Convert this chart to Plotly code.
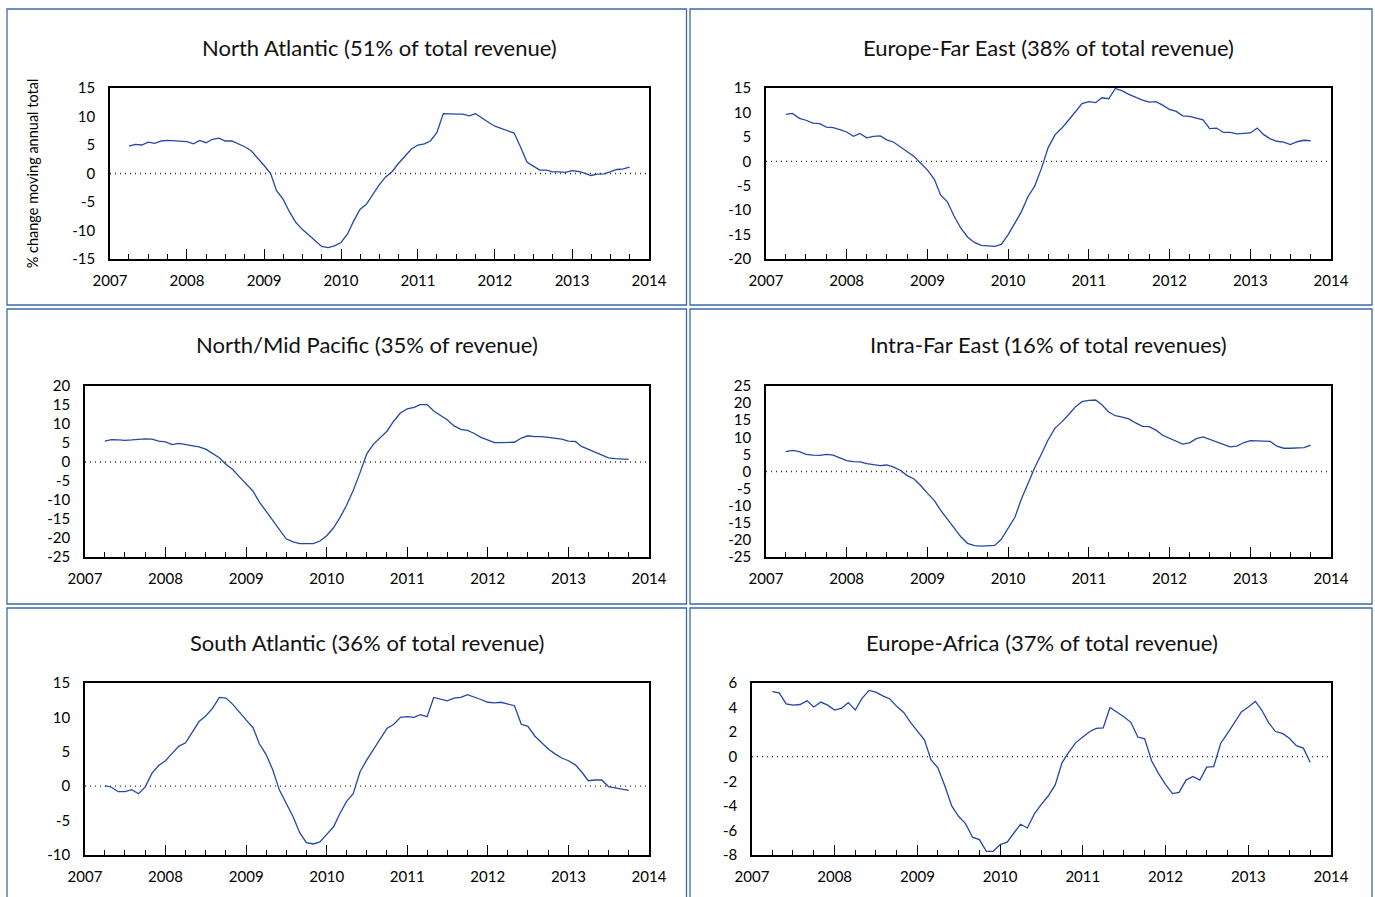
import pandas as pd
import plotly.graph_objects as go

# ---------------- data (monthly, Apr 2007 – Oct 2013) ----------------
months = pd.date_range("2007-04-01", "2013-10-01", freq="MS")

north_atlantic = [4.8, 5.1, 5.0, 5.5, 5.3, 5.7, 5.8, 5.7, 5.7, 5.6, 5.2, 5.8, 5.4, 6.0, 6.2, 5.7,
                  5.7, 5.2, 4.7, 4.0, 2.8, 1.4, 0.0, -3.0, -4.5, -6.7, -8.6, -9.8, -10.8, -11.8,
                  -12.8, -13.0, -12.7, -12.1, -10.6, -8.4, -6.3, -5.4, -3.7, -2.0, -0.6, 0.35, 1.8,
                  3.0, 4.3, 5.0, 5.2, 5.7, 7.2, 10.5, 10.4, 10.4, 10.4, 10.1, 10.5, 9.7, 9.0, 8.3,
                  7.9, 7.6, 7.1, 4.7, 2.0, 1.3, 0.6, 0.6, 0.3, 0.3, 0.2, 0.5, 0.35, 0.05, -0.35,
                  -0.1, -0.05, 0.3, 0.7, 0.8, 1.1]

europe_far_east = [9.6, 9.8, 8.8, 8.4, 7.8, 7.7, 7.0, 6.9, 6.5, 6.0, 5.1, 5.7, 4.8, 5.1, 5.2, 4.4,
                   3.9, 2.9, 2.0, 1.0, -0.4, -1.8, -3.7, -6.9, -8.3, -11.2, -13.7, -15.5, -16.6,
                   -17.2, -17.3, -17.4, -17.0, -15.0, -12.6, -10.4, -7.2, -5.1, -1.4, 2.8, 5.4,
                   6.8, 8.4, 10.1, 11.8, 12.2, 12.0, 13.0, 12.8, 14.9, 14.4, 13.7, 13.1, 12.5, 12.1,
                   12.2, 11.5, 10.6, 10.2, 9.3, 9.2, 8.9, 8.5, 6.7, 6.8, 5.9, 5.9, 5.6, 5.7, 5.8,
                   6.8, 5.5, 4.6, 4.1, 3.9, 3.4, 4.0, 4.3, 4.2]

north_mid_pacific = [5.5, 5.9, 5.8, 5.7, 5.8, 5.9, 6.1, 6.0, 5.5, 5.3, 4.6, 4.9, 4.6, 4.4, 4.0, 3.4,
                     2.3, 1.1, -0.6, -2.0, -3.9, -5.7, -7.7, -10.5, -13.0, -15.2, -17.7, -20.2,
                     -21.0, -21.5, -21.5, -21.5, -20.8, -19.4, -17.3, -14.7, -11.4, -7.5, -2.8, 2.1,
                     4.7, 6.4, 8.1, 10.8, 12.9, 14.0, 14.4, 15.1, 15.1, 13.4, 12.3, 11.1, 9.5, 8.6,
                     8.3, 7.5, 6.5, 5.8, 5.1, 5.1, 5.2, 5.2, 6.3, 6.9, 6.7, 6.7, 6.5, 6.3, 6.0, 5.5,
                     5.4, 4.1, 3.3, 2.5, 1.8, 1.1, 0.9, 0.7, 0.7]

intra_far_east = [5.8, 6.2, 5.8, 5.0, 4.8, 4.7, 5.0, 4.8, 4.0, 3.2, 2.9, 2.8, 2.3, 2.0, 1.7, 1.9,
                  1.3, 0.3, -1.2, -2.2, -4.1, -6.4, -8.5, -11.3, -13.9, -16.4, -19.1, -21.0, -21.7,
                  -21.8, -21.6, -21.6, -19.8, -16.7, -13.3, -8.2, -3.2, 1.1, 5.2, 9.3, 12.7, 14.5,
                  16.6, 18.9, 20.4, 20.8, 20.9, 19.5, 17.4, 16.3, 15.9, 15.4, 14.2, 13.2, 13.1,
                  12.1, 10.6, 9.7, 8.9, 8.0, 8.4, 9.6, 10.1, 9.4, 8.6, 8.1, 7.2, 7.4, 8.4, 9.0,
                  8.9, 8.9, 8.8, 7.4, 6.8, 6.8, 7.0, 7.0, 7.7]

south_atlantic = [0.1, -0.15, -0.8, -0.8, -0.5, -1.1, -0.1, 1.9, 3.0, 3.7, 4.8, 5.8, 6.3, 7.9, 9.4,
                  10.2, 11.3, 12.9, 12.8, 11.9, 10.7, 9.6, 8.5, 6.2, 4.6, 2.4, -0.6, -2.5, -4.4,
                  -6.8, -8.2, -8.4, -8.1, -7.0, -5.9, -4.0, -2.2, -1.1, 2.1, 3.8, 5.3, 6.8, 8.4,
                  9.0, 10.0, 10.1, 10.0, 10.4, 10.1, 12.9, 12.7, 12.4, 12.8, 12.9, 13.3, 13.0, 12.6,
                  12.2, 12.1, 12.2, 12.0, 11.7, 9.0, 8.7, 7.3, 6.4, 5.4, 4.7, 4.1, 3.7, 3.1, 2.1,
                  0.8, 0.9, 0.9, -0.05, -0.2, -0.35, -0.6]

europe_africa = [5.3, 5.2, 4.3, 4.2, 4.25, 4.55, 4.05, 4.45, 4.2, 3.8, 3.95, 4.4, 3.8, 4.75, 5.4,
                 5.25, 4.95, 4.7, 4.1, 3.6, 2.8, 2.1, 1.35, -0.25, -0.9, -2.35, -4.0, -4.85, -5.45,
                 -6.55, -6.75, -7.7, -7.7, -7.15, -6.95, -6.25, -5.5, -5.8, -4.65, -3.9, -3.2,
                 -2.3, -0.5, 0.4, 1.15, 1.6, 2.05, 2.3, 2.35, 4.0, 3.65, 3.25, 2.8, 1.6, 1.45,
                 -0.35, -1.35, -2.25, -3.0, -2.9, -1.9, -1.6, -1.9, -0.85, -0.8, 1.1, 1.9, 2.75,
                 3.65, 4.05, 4.5, 3.8, 2.75, 2.05, 1.9, 1.5, 0.9, 0.7, -0.45]

titles = ["North Atlantic (51% of total revenue)",
          "Europe-Far East (38% of total revenue)",
          "North/Mid Pacific (35% of revenue)",
          "Intra-Far East (16% of total revenues)",
          "South Atlantic (36% of total revenue)",
          "Europe-Africa (37% of total revenue)"]
series = [north_atlantic, europe_far_east, north_mid_pacific,
          intra_far_east, south_atlantic, europe_africa]
# y tick values per panel (labels shown with a plain hyphen, as in the source)
y_ticks = [[-15, -10, -5, 0, 5, 10, 15],
           [-20, -15, -10, -5, 0, 5, 10, 15],
           [-25, -20, -15, -10, -5, 0, 5, 10, 15, 20],
           [-25, -20, -15, -10, -5, 0, 5, 10, 15, 20, 25],
           [-10, -5, 0, 5, 10, 15],
           [-8, -6, -4, -2, 0, 2, 4, 6]]
y_title = "% change moving annual total"

# ---------------- layout (pixel geometry) ----------------
W, H = 1375, 897
# plot boxes: (left, right, top, bottom) in pixels
boxes = [(110, 649, 88, 259), (766, 1331, 88, 259),
         (85, 649, 386, 557), (766, 1331, 386, 557),
         (85, 649, 683, 855), (752, 1331, 683, 855)]
title_y = [47, 47, 345, 345, 642, 642]
# panel frames (left, right, top, bottom)
frames = [(7, 686.5, 9, 305), (690, 1372, 9, 305),
          (7, 686.5, 309, 604), (690, 1372, 309, 604),
          (7, 686.5, 608, 905), (690, 1372, 608, 905)]

FONT = "Lato, 'Open Sans', sans-serif"
LINE = "#2448A2"
FRAME = "#3A6BA6"

def px(x):
    return x / W

def py(y):
    return 1 - y / H

fig = go.Figure()
layout = dict(width=W, height=H,
              margin=dict(l=0, r=0, t=0, b=0, pad=0, autoexpand=False),
              paper_bgcolor="white", plot_bgcolor="white", showlegend=False,
              font=dict(family=FONT, size=15, color="black"))
shapes = []
annotations = []

for k in range(6):
    n = "" if k == 0 else str(k + 1)
    l, r, t, b = boxes[k]
    fig.add_trace(go.Scatter(x=months, y=series[k], mode="lines",
                             line=dict(color=LINE, width=1.3),
                             xaxis="x" + n, yaxis="y" + n, hoverinfo="x+y"))
    layout["xaxis" + n] = dict(
        domain=[px(l), px(r)], anchor="y" + n, type="date", automargin=False,
        range=["2007-01-01", "2014-01-01"], dtick="M12", tick0="2007-01-01",
        tickformat="%Y", ticks="inside", ticklen=10, tickwidth=1, tickcolor="black",
        minor=dict(dtick="M3", tick0="2007-01-01", ticks="inside", ticklen=5,
                   tickwidth=1, tickcolor="black"),
        showline=True, linecolor="black", linewidth=1.5, mirror=True,
        showgrid=False, zeroline=False, ticklabelstandoff=7,
        tickfont=dict(size=15, family=FONT))
    yt = y_ticks[k]
    layout["yaxis" + n] = dict(
        domain=[py(b), py(t)], anchor="x" + n, range=[yt[0], yt[-1]], automargin=False,
        tickmode="array", tickvals=yt, ticktext=[str(v) for v in yt],
        ticks="", showline=True, linecolor="black",
        linewidth=1.5, mirror=True, showgrid=False, zeroline=False,
        ticklabelstandoff=10, tickfont=dict(size=15, family=FONT))
    # dotted zero line
    shapes.append(dict(type="line", xref="x" + n + " domain", yref="y" + n,
                       x0=0, x1=1, y0=0, y1=0,
                       line=dict(color="#333333", width=1.3, dash="1px,4px")))
    annotations.append(dict(text=titles[k], x=px((l + r) / 2), y=py(title_y[k]),
                            xref="paper", yref="paper", showarrow=False,
                            xanchor="center", yanchor="middle",
                            font=dict(size=22, family=FONT, color="#111111")))
    fl, fr, ft, fb = frames[k]
    shapes.append(dict(type="rect", xref="paper", yref="paper",
                       x0=px(fl), x1=px(fr), y0=py(fb), y1=py(ft),
                       line=dict(color=FRAME, width=1.3), layer="below"))

layout["yaxis"]["title"] = dict(text=y_title, font=dict(size=14.5, family=FONT), standoff=30)
layout["shapes"] = shapes
layout["annotations"] = annotations
fig.update_layout(**layout)

fig.write_html(
    "out.html",
    config=dict(displayModeBar=False),
    post_script=("document.body.style.margin='0';document.body.style.padding='0';"
                 "document.documentElement.style.overflow='hidden';"
                 "document.body.style.overflow='hidden';"),
)
